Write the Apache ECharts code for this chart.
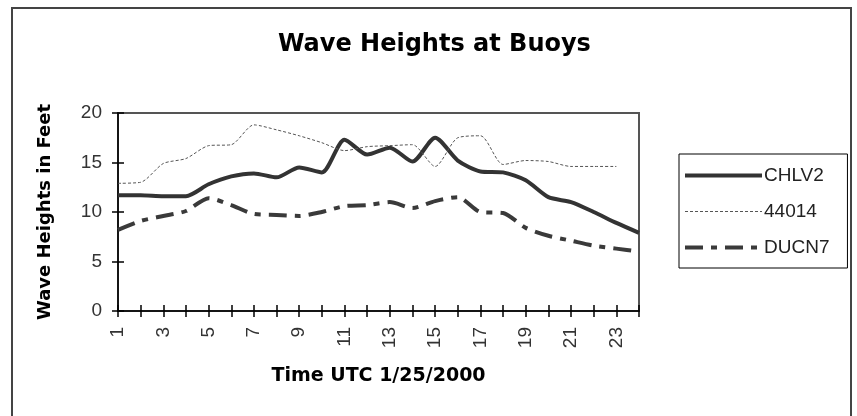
<!DOCTYPE html>
<html>
<head>
<meta charset="utf-8">
<script src="https://cdn.jsdelivr.net/npm/echarts@6/dist/echarts.min.js"></script>
<style>
  html, body { margin: 0; padding: 0; background: #fff; }
  #chart { width: 857px; height: 416px; }
</style>
</head>
<body>
<div id="chart"></div>
<script>
// hours along the x axis
const hours = ['1','2','3','4','5','6','7','8','9','10','11','12',
               '13','14','15','16','17','18','19','20','21','22','23','24'];
// wave heights in feet
const chlv2 = [11.7, 11.7, 11.6, 11.6, 12.8, 13.6, 13.9, 13.5, 14.5, 14.0, 17.3, 15.8,
               16.5, 15.1, 17.5, 15.2, 14.1, 14.0, 13.2, 11.5, 11.0, 10.0, 8.9, 7.9];
const b44014 = [12.9, 13.0, 14.9, 15.4, 16.7, 16.8, 18.8, 18.3, 17.7, 17.0, 16.2, 16.6,
                16.7, 16.8, 14.6, 17.5, 17.7, 14.8, 15.2, 15.1, 14.6, 14.6, 14.6, null];
const ducn7 = [8.2, 9.1, 9.6, 10.1, 11.4, 10.7, 9.8, 9.7, 9.6, 10.0, 10.6, 10.7,
               11.0, 10.4, 11.1, 11.5, 10.0, 9.9, 8.4, 7.6, 7.1, 6.6, 6.3, 6.0];

var mychart = echarts.init(document.getElementById('chart'));

const labelFont = { fontFamily: 'Liberation Sans', fontSize: 19, color: '#333' };
const boldFont = { fontFamily: 'DejaVu Sans', fontWeight: 'bold', color: '#000' };

const option = {
  animation: false,
  title: {
    text: 'Wave Heights at Buoys',
    left: 278,
    top: 33,
    padding: 0,
    textStyle: Object.assign({ fontSize: 24 }, boldFont)
  },
  graphic: [{
    type: 'rect',
    shape: { x: 12, y: 8, width: 839, height: 430 },
    style: { fill: null, stroke: '#444', lineWidth: 2 },
    silent: true
  }],
  legend: {
    orient: 'vertical',
    left: 679,
    top: 154,
    padding: [12, 18, 11, 4],
    itemWidth: 77,
    itemHeight: 14,
    itemGap: 17,
    borderColor: '#000',
    borderWidth: 1,
    itemStyle: { opacity: 0 },
    textStyle: { fontFamily: 'Liberation Sans', fontSize: 19, color: '#222', padding: [0, 0, 0, -3] },
    data: [
      { name: 'CHLV2', lineStyle: { width: 4 } },
      { name: '44014', lineStyle: { width: 1 } },
      { name: 'DUCN7', lineStyle: { width: 4 } }
    ]
  },
  grid: {
    left: 118, right: 218, top: 113, bottom: 105,
    show: true, borderColor: '#555', borderWidth: 2
  },
  xAxis: [{
    type: 'category',
    data: hours,
    boundaryGap: false,
    position: 'bottom',
    name: 'Time UTC 1/25/2000',
    nameLocation: 'middle',
    nameGap: 56,
    nameTextStyle: Object.assign({ fontSize: 19 }, boldFont),
    axisLine: { lineStyle: { color: '#000', width: 1.5 } },
    axisTick: { show: true, interval: 0, length: 6, lineStyle: { color: '#000', width: 1.5 } },
    axisLabel: Object.assign({ interval: 1, rotate: 90, margin: 16 }, labelFont),
    splitLine: { show: false }
  }, {
    type: 'category',
    data: hours,
    boundaryGap: false,
    position: 'bottom',
    axisLine: { show: false },
    axisTick: { show: true, inside: true, interval: 0, length: 6, lineStyle: { color: '#000', width: 1.5 } },
    axisLabel: { show: false },
    splitLine: { show: false }
  }],
  yAxis: [{
    type: 'value',
    min: 0, max: 20, interval: 5,
    position: 'left',
    name: 'Wave Heights in Feet',
    nameLocation: 'middle',
    nameRotate: 90,
    nameGap: 64,
    nameTextStyle: Object.assign({ fontSize: 18 }, boldFont),
    axisLine: { show: true, lineStyle: { color: '#000', width: 1.5 } },
    axisTick: { show: true, length: 6, lineStyle: { color: '#000', width: 1.5 } },
    axisLabel: Object.assign({ margin: 16 }, labelFont),
    splitLine: { show: false }
  }, {
    type: 'value',
    min: 0, max: 20, interval: 5,
    position: 'left',
    axisLine: { show: false },
    axisTick: { show: true, inside: true, length: 6, lineStyle: { color: '#000', width: 1.5 } },
    axisLabel: { show: false },
    splitLine: { show: false }
  }],
  series: [{
    name: 'CHLV2',
    type: 'line',
    data: chlv2,
    symbol: 'none',
    smooth: 0.25,
    color: '#333',
    lineStyle: { color: '#333', width: 4 }
  }, {
    name: '44014',
    type: 'line',
    data: b44014,
    symbol: 'none',
    smooth: 0.25,
    color: '#555',
    lineStyle: { color: '#555', width: 1, type: [3, 2] }
  }, {
    name: 'DUCN7',
    type: 'line',
    data: ducn7,
    symbol: 'none',
    smooth: 0.25,
    color: '#3a3a3a',
    lineStyle: { color: '#3a3a3a', width: 4, type: [18, 8, 6, 8] }
  }]
};

mychart.setOption(option);
</script>
</body>
</html>
